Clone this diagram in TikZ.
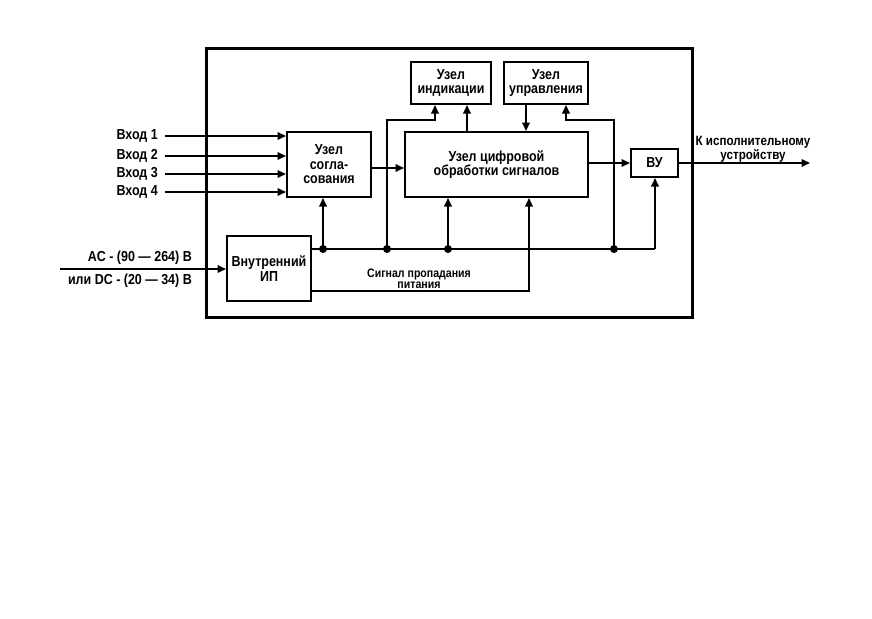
\documentclass[tikz,border=0pt]{standalone}
\usepackage{fontspec}
\setmainfont{Liberation Sans}[BoldFeatures={FakeStretch=0.86}]
\usetikzlibrary{arrows.meta}
\begin{document}
\begin{tikzpicture}[x=1pt,y=-1pt,
  box/.style={draw,line width=2pt,inner sep=0pt},
  lbl/.style={font=\bfseries\fontsize{14.5}{14.5}\selectfont,align=center,inner sep=0pt},
  small/.style={font=\bfseries\fontsize{12.3}{10.7}\selectfont,align=center,inner sep=0pt},
  wire/.style={line width=1.8pt},
  arr/.style={wire,-{Triangle[length=8.5pt,width=7.5pt]}},
  dot/.style={circle,fill,inner sep=0pt,minimum size=8pt}]
\useasboundingbox (0,0) rectangle (872,618);
\draw[line width=3pt] (206,49) rectangle (692,317);
% boxes
\node[box,minimum width=84pt,minimum height=65pt] (sogl) at (329,164.5) {};
\node[lbl] at (sogl) {Узел\\согла-\\сования};
\node[box,minimum width=183pt,minimum height=65pt] (dsp) at (496.5,164.5) {};
\node[lbl] at (dsp) {Узел цифровой\\обработки сигналов};
\node[box,minimum width=80pt,minimum height=42pt] (ind) at (451,83) {};
\node[lbl] at (ind) {Узел\\индикации};
\node[box,minimum width=84pt,minimum height=42pt] (upr) at (546,83) {};
\node[lbl] at (upr) {Узел\\управления};
\node[box,minimum width=47pt,minimum height=28pt] (vu) at (654.5,163) {};
\node[lbl] at (vu) {ВУ};
\node[box,minimum width=84pt,minimum height=65pt] (ip) at (269,268.5) {};
\node[lbl] at (ip) {Внутренний\\ИП};
% inputs
\foreach \i/\y in {1/136,2/156,3/174,4/192}{
  \coordinate (in\i) at (165,\y);
  \node[lbl,anchor=east] at (158,\y) {Вход \i};
  \draw[arr] (in\i) -- (sogl.west |- in\i);
}
% power input
\coordinate (acin) at (60,269);
\draw[arr] (acin) -- (ip.west |- acin);
\node[lbl,anchor=east] at (192,258) {AC - (90 --- 264) В};
\node[lbl,anchor=east] at (192,281) {или DC - (20 --- 34) В};
% bus
\coordinate (d1) at (323,249);
\coordinate (d2) at (387,249);
\coordinate (d3) at (448,249);
\coordinate (d4) at (614,249);
\coordinate (bend) at (655,249);
\draw[wire] (ip.east |- d1) -- (bend);
\draw[arr] (bend) -- (vu.south -| bend);
\foreach \d in {d1,d2,d3,d4} \node[dot] at (\d) {};
\draw[arr] (d1) -- (sogl.south -| d1);
\draw[arr] (d3) -- (dsp.south -| d3);
\draw[arr] (d2) -- (387,120) -- (435,120) -- (ind.south -| 435,0);
\draw[arr] (d4) -- (614,120) -- (566,120) -- (upr.south -| 566,0);
\draw[arr] (dsp.north -| 467,0) -- (ind.south -| 467,0);
\draw[arr] (upr.south -| 526,0) -- (dsp.north -| 526,0);
% power fail signal
\draw[arr] (ip.east |- 0,291) -- (529,291) -- (dsp.south -| 529,0);
\node[small] at (419,278.5) {Сигнал пропадания\\питания};
% signal flow
\draw[arr] (sogl.east |- 0,168) -- (dsp.west |- 0,168);
\draw[arr] (dsp.east |- vu) -- (vu.west);
\coordinate (out) at (810,163);
\draw[arr] (vu.east) -- (out);
\node[font=\bfseries\fontsize{13.5}{11.7}\selectfont,align=center,inner sep=0pt] at (753,149) {К исполнительному\\устройству};
\end{tikzpicture}
\end{document}
